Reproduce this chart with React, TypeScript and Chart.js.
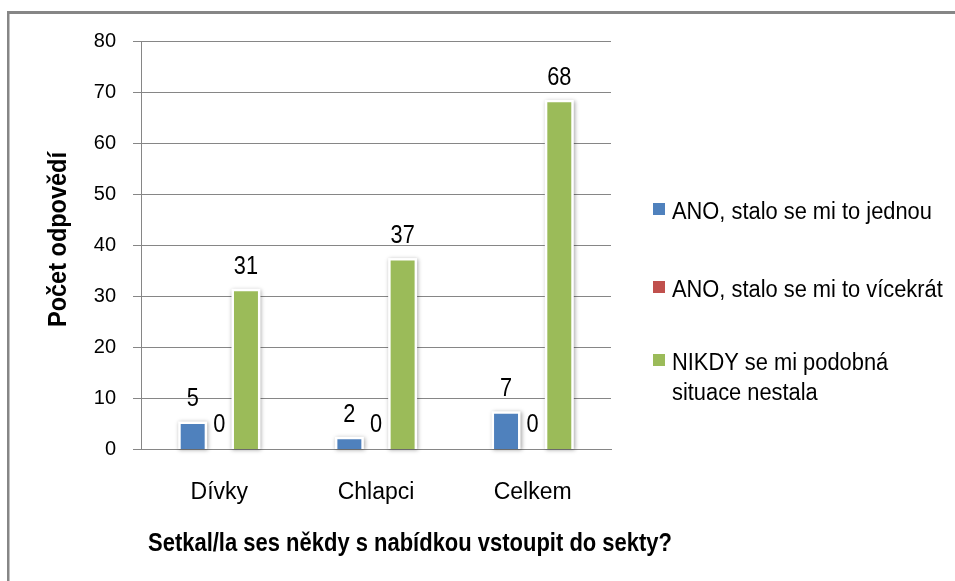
import React, { useEffect, useRef } from "react";
import { Chart, registerables } from "chart.js";

Chart.register(...registerables);

const categories = ["Dívky", "Chlapci", "Celkem"];
const seriesNames = [
  "ANO, stalo se mi to jednou",
  "ANO, stalo se mi to vícekrát",
  "NIKDY se mi podobná situace nestala",
];
const onceValues = [5, 2, 7];
const repeatedValues = [0, 0, 0];
const neverValues = [31, 37, 68];
const seriesColors = ["#4F81BD", "#C0504D", "#9BBB59"];
const yMin = 0;
const yMax = 80;
const yStep = 10;
const yTitle = "Počet odpovědí";
const xTitle = "Setkal/la ses někdy s nabídkou vstoupit do sekty?";

const FAMILY = '"Liberation Sans", Arial, Helvetica, sans-serif';
const GRAY = "#868686";

function fitText(ctx: CanvasRenderingContext2D, text: string, x: number, y: number, targetW: number) {
  const w = ctx.measureText(text).width;
  const sx = targetW / w;
  ctx.save();
  ctx.translate(x, y);
  ctx.scale(sx, 1);
  ctx.fillText(text, 0, 0);
  ctx.restore();
}

function scaledText(ctx: CanvasRenderingContext2D, text: string, x: number, y: number, sx: number) {
  ctx.save();
  ctx.translate(x, y);
  ctx.scale(sx, 1);
  ctx.fillText(text, 0, 0);
  ctx.restore();
}

const framePlugin = {
  id: "frame",
  beforeDraw(chart: any) {
    const ctx = chart.ctx as CanvasRenderingContext2D;
    ctx.save();
    ctx.fillStyle = "#ffffff";
    ctx.fillRect(0, 0, chart.width, chart.height);
    ctx.fillStyle = GRAY;
    ctx.fillRect(7, 11, 2.5, chart.height - 11);
    ctx.fillRect(7, 11, chart.width - 7, 3);
    ctx.restore();
  },
};

const barShadowPlugin = {
  id: "barShadow",
  beforeDatasetsDraw(chart: any) {
    const ctx = chart.ctx as CanvasRenderingContext2D;
    chart.data.datasets.forEach((ds: any, di: number) => {
      const meta = chart.getDatasetMeta(di);
      meta.data.forEach((el: any, i: number) => {
        if (!ds.data[i]) return;
        const p = el.getProps(["x", "y", "base", "width"], true);
        ctx.save();
        ctx.shadowColor = "rgba(0,0,0,0.35)";
        ctx.shadowBlur = 4;
        ctx.shadowOffsetX = 1;
        ctx.shadowOffsetY = 1;
        ctx.fillStyle = "#ffffff";
        ctx.fillRect(p.x - p.width / 2 - 2.5, p.y - 2.5, p.width + 5, p.base - p.y + 2.5);
        ctx.restore();
      });
    });
  },
};

const labelsPlugin = {
  id: "extras",
  afterDatasetsDraw(chart: any) {
    const ctx = chart.ctx as CanvasRenderingContext2D;
    ctx.save();
    ctx.fillStyle = "#000000";
    ctx.textBaseline = "alphabetic";
    ctx.font = `25px ${FAMILY}`;
    chart.data.datasets.forEach((ds: any, di: number) => {
      const meta = chart.getDatasetMeta(di);
      meta.data.forEach((el: any, i: number) => {
        const p = el.getProps(["x", "y"], true);
        const t = String(ds.data[i]);
        const w = ctx.measureText(t).width * 0.87;
        scaledText(ctx, t, p.x - w / 2, p.y - 17.5, 0.87);
      });
    });
    ctx.restore();
  },
  afterDraw(chart: any) {
    const ctx = chart.ctx as CanvasRenderingContext2D;
    ctx.save();
    ctx.fillStyle = "#000000";
    ctx.textBaseline = "alphabetic";
    ctx.textAlign = "left";
    // axis titles
    ctx.font = `bold 25px ${FAMILY}`;
    fitText(ctx, xTitle, 148, 551, 524);
    ctx.save();
    ctx.translate(66, 327);
    ctx.rotate(-Math.PI / 2);
    fitText(ctx, yTitle, 0, 0, 175);
    ctx.restore();
    // legend
    ctx.font = `23px ${FAMILY}`;
    const sx = 0.95;
    const maxW = 276;
    const baselines = [219, 297, 370];
    seriesNames.forEach((name, i) => {
      const words = name.split(" ");
      const lines: string[] = [];
      let cur = "";
      words.forEach((w) => {
        const test = cur ? cur + " " + w : w;
        if (ctx.measureText(test).width * sx > maxW && cur) {
          lines.push(cur);
          cur = w;
        } else cur = test;
      });
      if (cur) lines.push(cur);
      const b = baselines[i];
      ctx.fillStyle = seriesColors[i];
      ctx.fillRect(653, b - 16, 12, 12);
      ctx.fillStyle = "#000000";
      lines.forEach((ln, li) => scaledText(ctx, ln, 672, b + li * 30, sx));
    });
    ctx.restore();
  },
};

export default function App() {
  const ref = useRef<HTMLCanvasElement | null>(null);
  useEffect(() => {
    if (!ref.current) return;
    const chart = new Chart(ref.current, {
      type: "bar",
      data: {
        labels: categories,
        datasets: [
          { label: seriesNames[0], data: onceValues, backgroundColor: seriesColors[0] },
          { label: seriesNames[1], data: repeatedValues, backgroundColor: seriesColors[1] },
          { label: seriesNames[2], data: neverValues, backgroundColor: seriesColors[2] },
        ],
      },
      options: {
        responsive: false,
        animation: false,
        devicePixelRatio: 1,
        layout: { padding: { top: 41, right: 344, left: 0, bottom: 0 } },
        datasets: { bar: { categoryPercentage: 0.51, barPercentage: 0.9, borderWidth: 0 } },
        plugins: { legend: { display: false }, tooltip: { enabled: false }, title: { display: false } },
        scales: {
          x: {
            grid: { display: false, drawTicks: false },
            border: { display: true, color: GRAY, width: 1 },
            ticks: { color: "#000", font: { size: 23, family: FAMILY }, padding: 29 },
            afterFit: (s: any) => {
              s.height = 131.5;
            },
          },
          y: {
            min: yMin,
            max: yMax,
            ticks: { stepSize: yStep, color: "#000", font: { size: 20, family: FAMILY }, padding: 17 },
            grid: { color: GRAY, lineWidth: 1, tickLength: 8, drawTicks: true },
            border: { display: true, color: GRAY, width: 1 },
            afterFit: (s: any) => {
              s.width = 141;
            },
          },
        },
      },
      plugins: [framePlugin, barShadowPlugin, labelsPlugin],
    });
    return () => chart.destroy();
  }, []);
  return (
    <canvas
      ref={ref}
      width={955}
      height={581}
      style={{ position: "fixed", left: 0, top: 0, width: 955, height: 581 }}
    />
  );
}
